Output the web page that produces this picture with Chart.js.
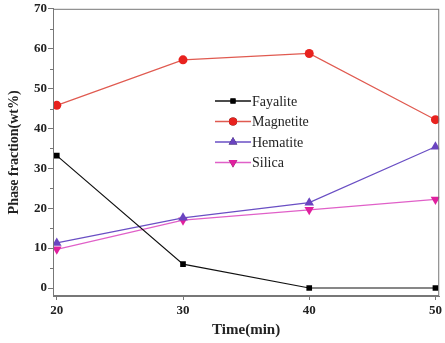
<!DOCTYPE html>
<html>
<head>
<meta charset="utf-8">
<script src="https://cdn.jsdelivr.net/npm/chart.js@4.4.0/dist/chart.umd.min.js"></script>
<style>
  html, body { margin: 0; padding: 0; background: #fff; }
  #wrap { width: 445px; height: 343px; }
</style>
</head>
<body>
<div id="wrap"><canvas id="myChart" width="445" height="343"></canvas></div>
<script>
const times = [20, 30, 40, 50];
const fayalite = [33.2, 6.0, 0.0, 0.0];
const magnetite = [45.8, 57.2, 58.8, 42.2];
const hematite = [11.3, 17.6, 21.4, 35.4];
const silica = [9.7, 17.0, 19.6, 22.2];
const yTicks = [0, 10, 20, 30, 40, 50, 60, 70];
const yMinorTicks = [5, 15, 25, 35, 45, 55, 65];

const FONT = '"Liberation Serif", "Times New Roman", serif';

function toXY(arr) {
  return arr.map((v, i) => ({ x: times[i], y: v }));
}

const datasets = [
  { label: 'Fayalite', data: toXY(fayalite), borderColor: '#111', backgroundColor: '#000', pointStyle: 'rect', pointRadius: 4, rotation: 0 },
  { label: 'Magnetite', data: toXY(magnetite), borderColor: '#e05a50', backgroundColor: '#e8221e', pointStyle: 'circle', pointRadius: 4.5, rotation: 0 },
  { label: 'Hematite', data: toXY(hematite), borderColor: '#6a4fc4', backgroundColor: '#6a44c0', pointStyle: 'triangle', pointRadius: 5.5, rotation: 0 },
  { label: 'Silica', data: toXY(silica), borderColor: '#e060c8', backgroundColor: '#e0209e', pointStyle: 'triangle', pointRadius: 5.5, rotation: 180 },
];
datasets.forEach(d => {
  d.borderWidth = 1.2;
  d.pointBorderWidth = 0;
  d.pointBorderColor = d.backgroundColor;
  d.pointBackgroundColor = d.backgroundColor;
  d.pointRotation = d.rotation;
  d.tension = 0;
});

// frame, minor ticks and legend box
const framePlugin = {
  id: 'frame',
  afterDraw(chart) {
    const { ctx, chartArea: a } = chart;
    ctx.save();
    ctx.strokeStyle = '#777';
    ctx.lineWidth = 1;
    ctx.strokeRect(a.left + 0.5, a.top + 0.5, a.right - a.left - 1, a.bottom - a.top - 1);
    const y = chart.scales.y;
    ctx.beginPath();
    yMinorTicks.forEach(v => {
      const py = Math.round(y.getPixelForValue(v)) + 0.5;
      ctx.moveTo(a.left - 3, py);
      ctx.lineTo(a.left, py);
    });
    ctx.stroke();

    // legend
    let lx = 215, ly = 101;
    ctx.font = '14px ' + FONT;
    ctx.textBaseline = 'middle';
    chart.data.datasets.forEach((d, i) => {
      const yy = ly + i * 20.5;
      ctx.strokeStyle = d.borderColor;
      ctx.lineWidth = 1.3;
      ctx.beginPath();
      ctx.moveTo(lx, yy);
      ctx.lineTo(lx + 36, yy);
      ctx.stroke();
      Chart.helpers.drawPoint(ctx, {
        pointStyle: d.pointStyle, radius: d.pointRadius * 0.9, rotation: d.rotation, borderWidth: 0
      }, lx + 18, yy);
      ctx.fillStyle = d.backgroundColor;
      ctx.fill();
      ctx.fillStyle = '#222';
      ctx.fillText(d.label, lx + 37, yy + 1);
    });
    ctx.restore();
  }
};

const ctx = document.getElementById('myChart').getContext('2d');
const myChart = new Chart(ctx, {
  type: 'line',
  data: { datasets: datasets },
  options: {
    responsive: false,
    animation: false,
    layout: { padding: { top: 7, right: 2, left: 0, bottom: 0 } },
    plugins: { legend: { display: false }, tooltip: { enabled: false } },
    scales: {
      x: {
        type: 'linear',
        min: 19.7,
        max: 50.3,
        afterBuildTicks: s => { s.ticks = times.map(v => ({ value: v })); },
        afterFit: s => { s.height = 47; },
        border: { color: '#777', width: 1 },
        grid: { drawOnChartArea: false, tickLength: 4, color: '#777' },
        ticks: { color: '#222', padding: 3, font: { family: FONT, size: 13, weight: 'bold' } },
        title: { display: true, text: 'Time(min)', color: '#222', padding: { top: 1 }, font: { family: FONT, size: 15, weight: 'bold' } }
      },
      y: {
        min: -2,
        max: 70,
        afterBuildTicks: s => { s.ticks = yTicks.map(v => ({ value: v })); },
        afterFit: s => { s.width = 53; },
        border: { color: '#777', width: 1 },
        grid: { drawOnChartArea: false, tickLength: 5, color: '#777' },
        ticks: { color: '#222', padding: 1, font: { family: FONT, size: 13, weight: 'bold' } },
        title: { display: true, text: 'Phase fraction(wt%)', color: '#222', padding: { top: 6, bottom: 4 }, font: { family: FONT, size: 14, weight: 'bold' } }
      }
    }
  },
  plugins: [framePlugin]
});
</script>
</body>
</html>
